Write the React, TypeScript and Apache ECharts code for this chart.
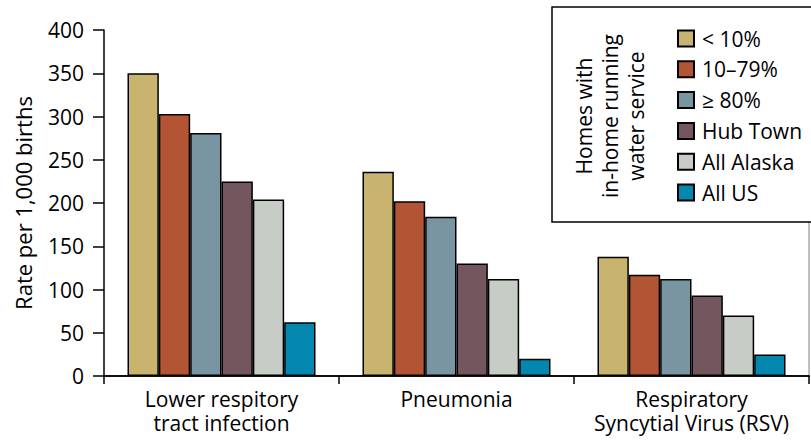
import React, { useEffect, useRef } from "react";
import * as echarts from "echarts";

const categories = ["Lower respitory\ntract infection", "Pneumonia", "Respiratory\nSyncytial Virus (RSV)"];
const seriesNames = ["< 10%", "10–79%", "≥ 80%", "Hub Town", "All Alaska", "All US"];
const seriesColors = ["#C8B46E", "#B35535", "#7A95A2", "#74565E", "#C7CDC6", "#0487AE"];
const lt10 = [350, 236, 138];
const mid = [303, 202, 117];
const ge80 = [281, 184, 112];
const hubTown = [225, 130, 93];
const allAlaska = [204, 112, 70];
const allUS = [62, 20, 25];
const seriesValues = [lt10, mid, ge80, hubTown, allAlaska, allUS];
const yTicks = { min: 0, max: 400, interval: 50 };

const FONT = "'Open Sans', 'Noto Sans', sans-serif";

export default function App() {
  const ref = useRef<HTMLDivElement>(null);
  useEffect(() => {
    if (!ref.current) return;
    const chart = echarts.init(ref.current, null, { renderer: "svg" });
    chart.setOption({
      animation: false,
      backgroundColor: "#ffffff",
      textStyle: { fontFamily: FONT, color: "#000" },
      grid: { left: 104, right: 2, top: 30, bottom: 64, containLabel: false },
      xAxis: [
        {
          type: "category",
          data: categories,
          axisLine: { lineStyle: { color: "#000", width: 1.5 } },
          axisTick: { show: true, length: 8, interval: 0, lineStyle: { color: "#000", width: 1.5 } },
          axisLabel: { color: "#000", fontSize: 21, lineHeight: 24, margin: 11, interval: 0, fontFamily: FONT },
        },
        {
          type: "category",
          data: categories,
          position: "top",
          axisLine: { lineStyle: { color: "#000", width: 1.5 } },
          axisTick: { show: false },
          axisLabel: { show: false },
        },
      ],
      yAxis: [
        {
          type: "value",
          min: yTicks.min,
          max: yTicks.max,
          interval: yTicks.interval,
          name: "Rate per 1,000 births",
          nameLocation: "middle",
          nameGap: 70,
          nameTextStyle: { color: "#000", fontSize: 22, fontFamily: FONT },
          axisLine: { show: true, lineStyle: { color: "#000", width: 1.5 } },
          axisTick: { show: true, length: 11, lineStyle: { color: "#000", width: 1.5 } },
          axisLabel: { color: "#000", fontSize: 21, margin: 20, fontFamily: FONT },
          splitLine: { show: false },
        },
        {
          type: "value",
          min: yTicks.min,
          max: yTicks.max,
          interval: yTicks.interval,
          position: "right",
          axisLine: { show: true, lineStyle: { color: "#aaaaaa", width: 1.5 } },
          axisTick: { show: false },
          axisLabel: { show: false },
          splitLine: { show: false },
        },
      ],
      legend: {
        orient: "vertical",
        left: 677,
        top: 28,
        padding: 0,
        itemWidth: 16,
        itemHeight: 16,
        itemGap: 9.8,
        icon: "rect",
        z: 20,
        textStyle: { color: "#000", fontSize: 21, fontFamily: FONT, padding: [0, 0, 0, 3] },
        data: seriesNames,
      },
      graphic: [
        {
          type: "rect",
          z: 10,
          shape: { x: 552, y: 7, width: 300, height: 215 },
          style: { fill: "#fff", stroke: "#000", lineWidth: 1.5 },
        },
        {
          type: "text",
          z: 11,
          x: 610,
          y: 116,
          rotation: Math.PI / 2,
          style: {
            text: "Homes with\nin-home running\nwater service",
            fill: "#000",
            font: `21px ${FONT}`,
            lineHeight: 26,
            align: "center",
            verticalAlign: "middle",
          },
        },
      ],
      series: seriesNames.map((name, i) => ({
        name,
        type: "bar",
        data: seriesValues[i],
        barGap: "0%",
        barCategoryGap: "20%",
        itemStyle: { color: seriesColors[i], borderColor: "#000", borderWidth: 1.5 },
      })),
    });
    return () => chart.dispose();
  }, []);
  return <div ref={ref} style={{ width: 811, height: 440, position: "absolute", left: 0, top: 0 }} />;
}
